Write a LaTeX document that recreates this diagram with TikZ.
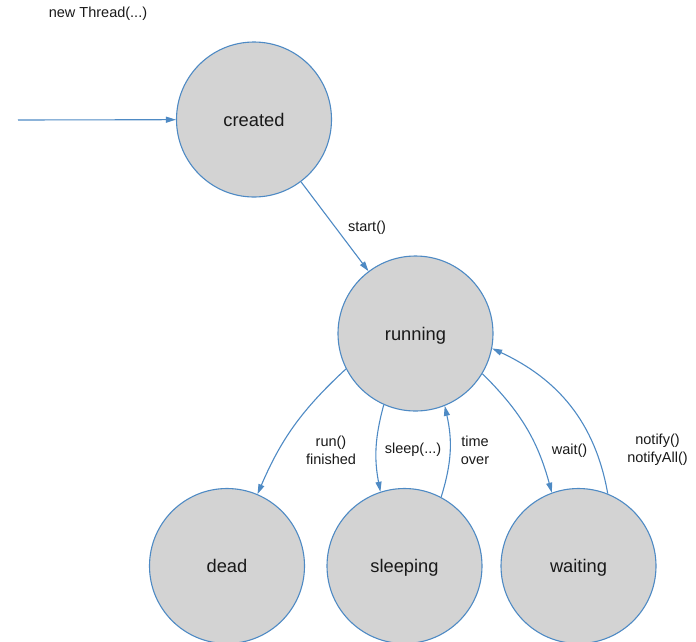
\documentclass[tikz,border=0pt]{standalone}
\usepackage{fontspec}
\setmainfont{Liberation Sans}
\usetikzlibrary{arrows.meta}
\definecolor{edgeblue}{RGB}{78,138,196}
\definecolor{statefill}{RGB}{211,211,211}
\definecolor{txt}{RGB}{25,25,25}
\begin{document}
\begin{tikzpicture}[x=1pt,y=1pt,
  state/.style={circle,draw=edgeblue,fill=statefill,line width=1.1pt,minimum size=155pt,inner sep=0pt,font=\fontsize{18.3}{20}\selectfont,text=txt,text height=13pt,text depth=0pt},
  trans/.style={draw=edgeblue,line width=1.1pt,-{Triangle[length=10pt,width=6pt]}},
  lbl/.style={font=\fontsize{14.5}{18}\selectfont,text=txt,align=center,inner sep=0pt}]
\useasboundingbox (0,0) rectangle (696,-641);
\node[state] (created) at (254,-119.5) {created};
\node[state] (running) at (415.5,-333.5) {running};
\node[state] (dead) at (227,-566) {dead};
\node[state] (sleeping) at (404.5,-566) {sleeping};
\node[state] (waiting) at (578.5,-566) {waiting};
\coordinate (init) at (18,-120);
\draw[trans] (init) -- (created);
\draw[trans] (created) -- (running);
\draw[trans] (running.207) to[bend right=12] (dead.67);
\draw[trans] (running.246) to[bend right=13] (sleeping.108);
\draw[trans] (sleeping.62) to[bend right=15] (running.292);
\draw[trans] (running.329) to[bend left=15] (waiting.110);
\draw[trans] (waiting.68) to[out=100,in=-25] (running.349);
\node[lbl] (lnew) at (98,-14) {new Thread(...)};
\node[lbl] (lstart) at (367,-228) {start()};
\node[lbl] (lrun) at (331,-450) {run()\\finished};
\node[lbl] (lsleep) at (413,-450) {sleep(...)};
\node[lbl] (ltime) at (475,-450) {time\\over};
\node[lbl] (lwait) at (569.5,-451) {wait()};
\node[lbl] (lnotify) at (657.5,-450) {notify()\\notifyAll()};
\end{tikzpicture}
\end{document}
